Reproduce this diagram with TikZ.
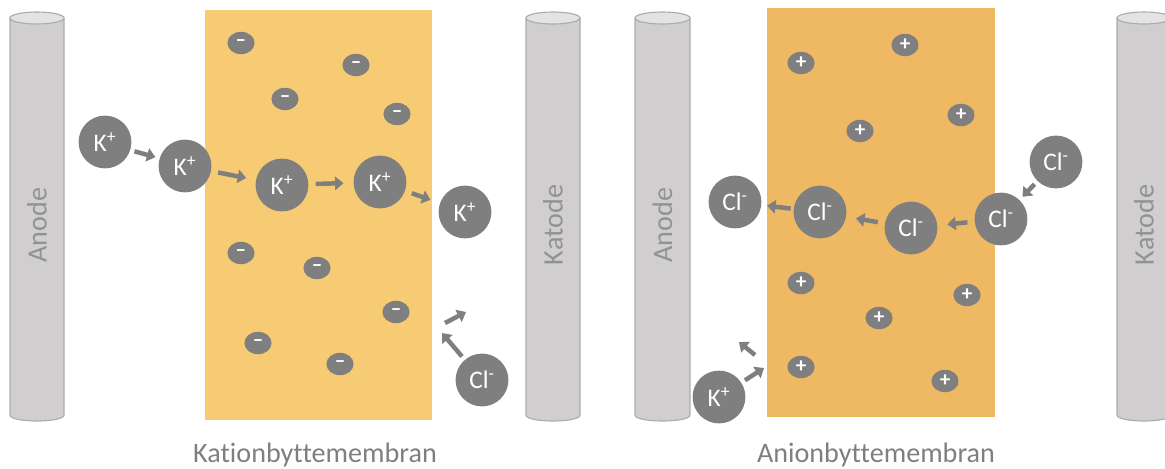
\documentclass[tikz,border=0pt]{standalone}
\usepackage{fontspec}
\setmainfont{Carlito}[Ligatures=NoCommon]
\usetikzlibrary{arrows.meta,shapes.geometric}

\definecolor{iongray}{HTML}{7F7F7F}
\definecolor{cylbody}{HTML}{D0CECE}
\definecolor{cyltop}{HTML}{E4E3E3}
\definecolor{cylline}{HTML}{AEABAB}
\definecolor{cationmem}{HTML}{F7CB73}
\definecolor{anionmem}{HTML}{EFB863}

\tikzset{
  ion/.style={circle,fill=iongray,text=white,minimum size=1.32cm,inner sep=0pt,font=\fontsize{18}{18}\selectfont},
  fixedion/.style={ellipse,fill=iongray,text=white,minimum width=0.68cm,minimum height=0.56cm,inner sep=0pt,font=\fontsize{15}{15}\bfseries},
  flow/.style={iongray,line width=3.2pt,-{Triangle[length=6pt,width=9.5pt]},shorten <=5pt,shorten >=7pt},
  electrode/.style={text=iongray!85!white,rotate=90,font=\fontsize{20}{20}\selectfont},
  memlabel/.style={text=iongray,font=\fontsize{20}{20}\selectfont}
}

% electrode as an upright cylinder: left edge, right edge
\newcommand{\electrodecyl}[3]{%
  \draw[cylline,fill=cylbody,line width=0.8pt] (#1,18) -- (#1,415) .. controls (#1,423) and (#2,423) .. (#2,415) -- (#2,18);
  \draw[cylline,fill=cyltop,line width=0.8pt] ({(#1+#2)/2},18) ellipse [x radius={(#2-#1)/2}, y radius=6];
  \node[electrode] at ({(#1+#2)/2},225) {#3};
}

\begin{document}
\begin{tikzpicture}[x=0.025cm,y=-0.025cm]
    \useasboundingbox (0,0) rectangle (1165,468);
    \clip (0,0) rectangle (1165,468);

    % cation exchange cell
    \electrodecyl{10}{64}{Anode}
    \electrodecyl{526}{580}{Katode}
    \fill[cationmem] (205,10) rectangle (432,420);
    \foreach \x/\y in {241/43,356/65,285/99,397/114,241/253,317/268,396/312,258/343,340/364}
        \node[fixedion] at (\x,\y) {–};
    \node[ion] (k1) at (105,142) {K\textsuperscript{+}};
    \node[ion] (k2) at (185,166) {K\textsuperscript{+}};
    \node[ion] (k3) at (282,185) {K\textsuperscript{+}};
    \node[ion] (k4) at (380,182) {K\textsuperscript{+}};
    \node[ion] (k5) at (465,212) {K\textsuperscript{+}};
    \node[ion] (cl1) at (482,380) {Cl\textsuperscript{-}};
    \draw[flow,shorten <=3pt,shorten >=3pt] (k1) -- (k2);
    \draw[flow] (k2) -- (k3);
    \draw[flow] (k3) -- (k4);
    \draw[flow] (k4) -- (k5);
    \coordinate (clback) at (442,333);
    \coordinate (clturn) at (445,323);
    \coordinate (claway) at (466,312);
    \draw[flow,shorten >=0pt,shorten <=3pt] (cl1) -- (clback);
    \draw[flow,shorten <=0pt,shorten >=0pt] (clturn) -- (claway);
    \node[memlabel] (catlabel) at (315,455) {Kationbyttemembran};

    % anion exchange cell
    \electrodecyl{635}{690}{Anode}
    \electrodecyl{1117}{1171}{Katode}
    \fill[anionmem] (767,8) rectangle (995,417);
    \foreach \x/\y in {801/63,905/45,961/115,860/131,801/283,967/295,879/318,801/367,945/381}
        \node[fixedion] at (\x,\y) {+};
    \node[ion] (c1) at (1056,162) {Cl\textsuperscript{-}};
    \node[ion] (c2) at (1001,219) {Cl\textsuperscript{-}};
    \node[ion] (c3) at (911,228) {Cl\textsuperscript{-}};
    \node[ion] (c4) at (820,212) {Cl\textsuperscript{-}};
    \node[ion] (c5) at (735,202) {Cl\textsuperscript{-}};
    \node[ion] (k6) at (719,397) {K\textsuperscript{+}};
    \draw[flow,shorten <=3pt,shorten >=3pt] (c1) -- (c2);
    \draw[flow] (c2) -- (c3);
    \draw[flow] (c3) -- (c4);
    \draw[flow,shorten <=2pt,shorten >=4pt] (c4) -- (c5);
    \coordinate (kback) at (739,342);
    \coordinate (kturn) at (755,355);
    \coordinate (kin) at (764,368);
    \draw[flow,shorten <=0pt,shorten >=0pt] (kturn) -- (kback);
    \draw[flow,shorten <=3pt,shorten >=0pt] (k6) -- (kin);
    \node[memlabel] (anlabel) at (876,455) {Anionbyttemembran};
\end{tikzpicture}
\end{document}
